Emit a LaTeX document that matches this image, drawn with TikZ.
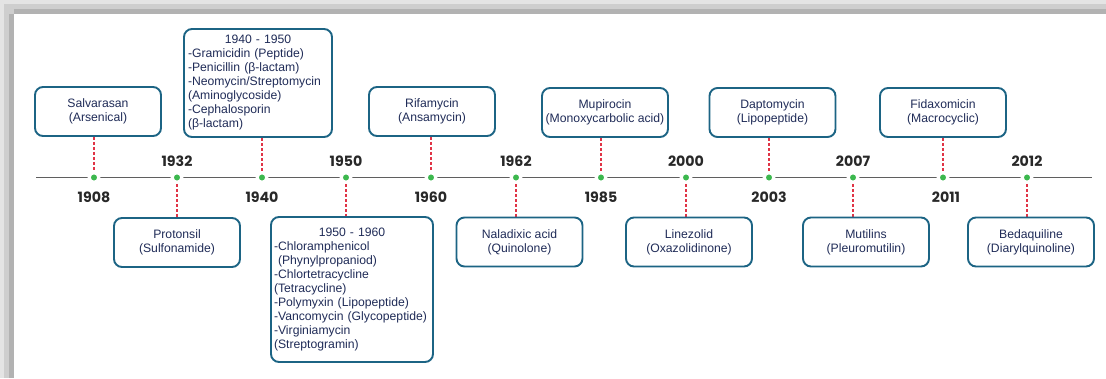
\documentclass[tikz,border=0pt]{standalone}
\usepackage{fontspec}
\setmainfont{Liberation Sans}
\newfontfamily\yearfont{Poppins}
\usetikzlibrary{backgrounds}
\definecolor{boxc}{RGB}{28,100,132}
\definecolor{txtc}{RGB}{32,44,88}
\definecolor{yearc}{RGB}{40,40,40}
\definecolor{dotc}{RGB}{60,184,78}
\definecolor{linkc}{RGB}{224,52,70}
\definecolor{axisc}{RGB}{95,95,95}
\definecolor{fr1}{RGB}{228,228,228}
\definecolor{fr2}{RGB}{206,206,206}
\definecolor{fr3}{RGB}{178,178,178}
\tikzset{
  tbox/.style={draw=boxc, line width=1.9pt, rounded corners=8pt, fill=white, text=txtc,
    font=\fontsize{12.2}{14}\selectfont, inner sep=0pt, minimum height=49pt, minimum width=126pt, align=center},
  listbox/.style={tbox, align=left},
  yearlbl/.style={font=\yearfont\bfseries\fontsize{14.2}{16}\selectfont, text=yearc, inner sep=0pt},
  tdot/.style={circle, fill=dotc, draw=white, line width=3pt, minimum size=9.5pt, inner sep=0pt},
  link/.style={draw=linkc, line width=1.1pt, dash pattern=on 3pt off 2pt},
  axisline/.style={draw=axisc, line width=1.5pt}
}
\begin{document}
\begin{tikzpicture}[x=1pt,y=-1pt]
\useasboundingbox (0,0) rectangle (1106,378);
% frame
\fill[fr1] (0,0) rectangle (1106,14);
\fill[fr2] (0,4) rectangle (1106,14);
\fill[fr3] (14,9) rectangle (1106,14);
\fill[fr1] (0,0) rectangle (14,378);
\fill[fr2] (4,4) rectangle (14,378);
\fill[fr3] (9,14) rectangle (14,378);

% dots
\node[tdot] (d1908) at (94,177.5) {};
\node[tdot] (d1932) at (177,177.5) {};
\node[tdot] (d1940) at (262,177.5) {};
\node[tdot] (d1950) at (346,177.5) {};
\node[tdot] (d1960) at (431,177.5) {};
\node[tdot] (d1962) at (516,177.5) {};
\node[tdot] (d1985) at (601,177.5) {};
\node[tdot] (d2000) at (686,177.5) {};
\node[tdot] (d2003) at (769,177.5) {};
\node[tdot] (d2007) at (853,177.5) {};
\node[tdot] (d2011) at (943,177.5) {};
\node[tdot] (d2012) at (1027,177.5) {};
\coordinate (axL) at (36,177.5);
\coordinate (axR) at (1092,177.5);

% year labels
\node[yearlbl] (y1908) at (94,197) {1908};
\node[yearlbl] (y1932) at (177,161) {1932};
\node[yearlbl] (y1940) at (262,197) {1940};
\node[yearlbl] (y1950) at (346,161) {1950};
\node[yearlbl] (y1960) at (431,197) {1960};
\node[yearlbl] (y1962) at (516,161) {1962};
\node[yearlbl] (y1985) at (601,197) {1985};
\node[yearlbl] (y2000) at (686,161) {2000};
\node[yearlbl] (y2003) at (769,197) {2003};
\node[yearlbl] (y2007) at (853,161) {2007};
\node[yearlbl] (y2011) at (946,197) {2011};
\node[yearlbl] (y2012) at (1027,161) {2012};

% upper boxes
\node[tbox] (b1908) at (98,111.5) {Salvarasan\\(Arsenical)};
\node[listbox, text width=140pt, minimum width=148pt, minimum height=108pt] (b1940) at (258,83)
  {{\centering 1940 - 1950\par}-Gramicidin (Peptide)\\-Penicillin (β-lactam)\\-Neomycin/Streptomycin\\(Aminoglycoside)\\-Cephalosporin\\(β-lactam)};
\node[tbox] (b1960) at (432,111.5) {Rifamycin\\(Ansamycin)};
\node[tbox] (b1985) at (605,112.5) {Mupirocin\\(Monoxycarbolic acid)};
\node[tbox] (b2003) at (772.5,112.5) {Daptomycin\\(Lipopeptide)};
\node[tbox] (b2011) at (943,112.5) {Fidaxomicin\\(Macrocyclic)};

% lower boxes
\node[tbox] (b1932) at (177,242.5) {Protonsil\\(Sulfonamide)};
\node[listbox, text width=156pt, minimum width=162pt, minimum height=145pt] (b1950) at (352,289.5)
  {{\centering 1950 - 1960\par}-Chloramphenicol\\\hspace*{4pt}(Phynylpropaniod)\\-Chlortetracycline\\(Tetracycline)\\-Polymyxin (Lipopeptide)\\-Vancomycin (Glycopeptide)\\-Virginiamycin\\(Streptogramin)};
\node[tbox] (b1962) at (519.5,242) {Naladixic acid\\(Quinolone)};
\node[tbox] (b2000) at (689,242) {Linezolid\\(Oxazolidinone)};
\node[tbox] (b2007) at (866,242) {Mutilins\\(Pleuromutilin)};
\node[tbox] (b2012) at (1031,242) {Bedaquiline\\(Diarylquinoline)};

\begin{scope}[on background layer]
\draw[axisline] (axL) -- (axR);
\draw[link] (b1908.south -| d1908) -- (d1908);
\draw[link] (b1940.south -| d1940) -- (d1940);
\draw[link] (b1960.south -| d1960) -- (d1960);
\draw[link] (b1985.south -| d1985) -- (d1985);
\draw[link] (b2003.south -| d2003) -- (d2003);
\draw[link] (b2011.south -| d2011) -- (d2011);
\draw[link] (d1932) -- (b1932.north -| d1932);
\draw[link] (d1950) -- (b1950.north -| d1950);
\draw[link] (d1962) -- (b1962.north -| d1962);
\draw[link] (d2000) -- (b2000.north -| d2000);
\draw[link] (d2007) -- (b2007.north -| d2007);
\draw[link] (d2012) -- (b2012.north -| d2012);
\end{scope}
\end{tikzpicture}
\end{document}
